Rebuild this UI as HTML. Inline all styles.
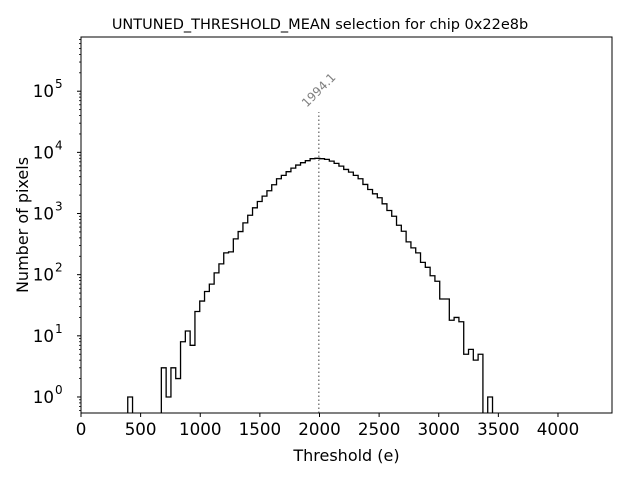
<!DOCTYPE html>
<html><head><meta charset="utf-8"><style>
body{margin:0;background:#fff}
svg{display:block;font-family:"DejaVu Sans","Liberation Sans",sans-serif}
</style></head><body>
<svg id="c" width="640" height="480" viewBox="0 0 640 480"></svg>
<script>
const binStart = 392;
const binWidth = 40.25;
const counts = [1,0,0,0,0,0,0,3,1,3,2,8,12,7,25,37,53,70,107,150,227,236,385,507,704,937,1240,1573,1923,2355,2953,3703,4200,4830,5530,6200,6780,7310,7880,8000,
7880,7680,7200,6600,5960,5260,4750,4200,3700,2990,2470,2100,1810,1440,1120,903,643,513,344,274,227,159,132,96,78,40,40,18,20,17,5,6,4,5,0,1];
const xTicks = [0,500,1000,1500,2000,2500,3000,3500,4000];
const yDecades = [0,1,2,3,4,5];
const meanValue = 1994.1;
const L=81,R=612,T=37,B=413;
const xMin=0,xMax=4453,yMin=Math.log10(0.547),yMax=Math.log10(7.7e5);
const NS="http://www.w3.org/2000/svg";
const svg=document.getElementById('c');
function X(v){return L+(v-xMin)/(xMax-xMin)*(R-L);}
function Y(v){const l=Math.log10(v);return B-(l-yMin)/(yMax-yMin)*(B-T);}
function el(t,a,p){const e=document.createElementNS(NS,t);for(const k in a)e.setAttribute(k,a[k]);(p||svg).appendChild(e);return e;}
let d="";let started=false;
for(let i=0;i<counts.length;i++){
  const x0=X(binStart+i*binWidth),x1=X(binStart+(i+1)*binWidth);
  const y=counts[i]>0?Y(counts[i]):B+2;
  if(!started){d+="M"+x0+","+(B+2);started=true;}
  d+="L"+x0+","+y+"L"+x1+","+y;
}
d+="L"+X(binStart+counts.length*binWidth)+","+(B+2);
const clip=el('clipPath',{id:'pc'});el('rect',{x:L,y:T,width:R-L,height:B-T},clip);
const h=el('path',{d:d,fill:'none',stroke:'#000','stroke-width':1.3,'clip-path':'url(#pc)'});


const topV=Math.max(...counts)*5.7;
const ml=el('line',{x1:X(meanValue),x2:X(meanValue),y1:B,y2:Y(topV),stroke:'#808080','stroke-width':1.5,'stroke-dasharray':'1.5,2.5'});


const lx=X(meanValue), ly=Y(topV)-22;
const mt=el('text',{x:lx,y:ly+4,fill:'#808080','font-size':12,transform:`rotate(-45 ${lx} ${ly})`,'text-anchor':'middle'});
mt.textContent=meanValue.toFixed(1);


const fr=el('rect',{x:L,y:T,width:R-L,height:B-T,fill:'none',stroke:'#000','stroke-width':1});


xTicks.forEach(v=>{
  const x=X(v);
  el('line',{x1:x,x2:x,y1:B,y2:B+4,stroke:'#000'});
  const t=el('text',{x:x,y:B+22,'font-size':16.7,'text-anchor':'middle'});
  t.textContent=v;
  
  
});
yDecades.forEach(p=>{
  const y=Y(Math.pow(10,p));
  el('line',{x1:L,x2:L-4,y1:y,y2:y,stroke:'#000'});
  const t=el('text',{x:L-27,y:y+6,'font-size':16.7,'text-anchor':'end'});
  t.textContent="10";
  
  
  const s=el('text',{x:L-26,y:y-3,'font-size':12,'text-anchor':'start'});
  s.textContent=String(p);
});
for(let p=-1;p<=5;p++){for(let m=2;m<=9;m++){const v=m*Math.pow(10,p);const lv=Math.log10(v);if(lv<yMin||lv>yMax)continue;const y=Y(v);el('line',{x1:L,x2:L-2,y1:y,y2:y,stroke:'#000','stroke-width':0.8});}}
const tt=el('text',{x:320,y:29,'font-size':14.5,'text-anchor':'middle'});
tt.textContent="UNTUNED_THRESHOLD_MEAN selection for chip 0x22e8b";


const xl=el('text',{x:(L+R)/2,y:461,'font-size':16,'text-anchor':'middle'});
xl.textContent="Threshold (e)";


const yl=el('text',{x:28,y:(T+B)/2,'font-size':16,'text-anchor':'middle',transform:`rotate(-90 28 ${(T+B)/2})`});
yl.textContent="Number of pixels";


</script>
</body></html>
